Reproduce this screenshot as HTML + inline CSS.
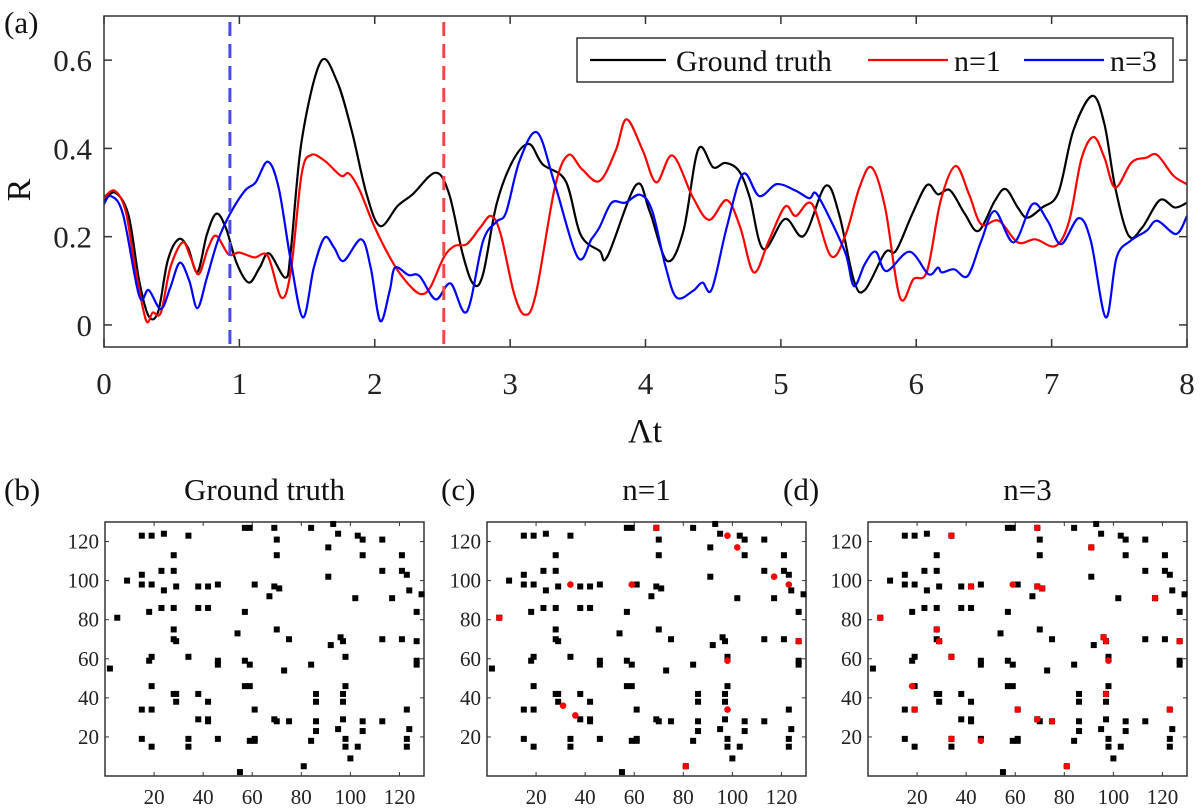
<!DOCTYPE html>
<html><head><meta charset="utf-8">
<style>
html,body{margin:0;padding:0;background:#fff;}
svg{display:block;}
svg text{font-family:"Liberation Serif","Times New Roman","DejaVu Serif","Noto Serif CJK SC",serif;}
</style></head>
<body>
<svg id="fig" width="1204" height="812" viewBox="0 0 1204 812">
</svg>
<script>
// ---- Data: panel (a) ----
const gtX=[0,0.08,0.18,0.26,0.33,0.40,0.47,0.55,0.62,0.69,0.76,0.83,0.90,0.98,1.07,1.15,1.22,1.34,1.38,1.46,1.60,1.72,1.83,1.94,2.04,2.17,2.28,2.45,2.55,2.65,2.73,2.80,2.90,3.02,3.14,3.24,3.41,3.52,3.66,3.72,3.93,4.03,4.16,4.28,4.39,4.50,4.59,4.69,4.77,4.87,5.03,5.17,5.33,5.43,5.54,5.62,5.77,5.85,5.97,6.08,6.16,6.25,6.36,6.46,6.58,6.66,6.75,6.82,6.93,7.05,7.16,7.30,7.39,7.47,7.57,7.67,7.80,7.91,8.0];
const gtY=[0.28,0.30,0.25,0.10,0.02,0.03,0.145,0.194,0.175,0.12,0.205,0.252,0.22,0.14,0.096,0.13,0.162,0.107,0.168,0.417,0.596,0.553,0.44,0.296,0.224,0.27,0.296,0.345,0.296,0.16,0.092,0.115,0.274,0.372,0.41,0.364,0.326,0.205,0.168,0.156,0.317,0.258,0.145,0.213,0.398,0.357,0.367,0.349,0.289,0.172,0.24,0.202,0.315,0.251,0.1,0.079,0.164,0.168,0.251,0.317,0.296,0.305,0.251,0.213,0.281,0.308,0.266,0.243,0.266,0.30,0.44,0.519,0.455,0.311,0.202,0.221,0.283,0.266,0.277];
const n1X=[0,0.08,0.16,0.23,0.31,0.36,0.42,0.49,0.58,0.64,0.70,0.77,0.83,0.92,1.0,1.11,1.21,1.31,1.38,1.46,1.53,1.63,1.75,1.81,1.89,2.0,2.14,2.25,2.34,2.41,2.51,2.59,2.68,2.78,2.86,2.93,3.03,3.11,3.19,3.33,3.43,3.53,3.66,3.78,3.86,3.98,4.08,4.20,4.35,4.47,4.60,4.70,4.80,4.91,5.03,5.11,5.23,5.37,5.48,5.58,5.67,5.77,5.88,5.98,6.08,6.18,6.29,6.39,6.48,6.61,6.75,6.88,7.03,7.13,7.22,7.31,7.39,7.47,7.59,7.70,7.78,7.90,8.0];
const n1Y=[0.289,0.304,0.258,0.13,0.011,0.028,0.028,0.13,0.187,0.153,0.115,0.175,0.202,0.16,0.164,0.153,0.156,0.062,0.122,0.342,0.385,0.372,0.338,0.343,0.304,0.221,0.138,0.092,0.07,0.085,0.153,0.179,0.183,0.221,0.247,0.206,0.07,0.023,0.07,0.311,0.385,0.353,0.326,0.395,0.466,0.395,0.323,0.384,0.289,0.238,0.283,0.221,0.119,0.19,0.268,0.247,0.274,0.156,0.206,0.311,0.357,0.266,0.062,0.104,0.122,0.281,0.36,0.296,0.228,0.236,0.187,0.194,0.179,0.236,0.376,0.426,0.379,0.311,0.368,0.379,0.385,0.338,0.319];
const n3X=[0,0.05,0.14,0.26,0.33,0.42,0.49,0.56,0.63,0.69,0.76,0.84,0.93,1.04,1.12,1.21,1.29,1.38,1.47,1.55,1.63,1.70,1.77,1.90,1.97,2.04,2.11,2.15,2.25,2.33,2.45,2.56,2.68,2.80,2.90,2.97,3.07,3.20,3.33,3.50,3.60,3.66,3.75,3.85,3.96,4.05,4.15,4.23,4.35,4.42,4.49,4.60,4.72,4.84,4.97,5.11,5.21,5.26,5.37,5.48,5.54,5.62,5.70,5.78,5.95,6.09,6.16,6.19,6.28,6.38,6.48,6.58,6.72,6.86,6.97,7.07,7.20,7.29,7.40,7.48,7.58,7.70,7.78,7.92,8.0];
const n3Y=[0.274,0.292,0.251,0.066,0.079,0.036,0.085,0.141,0.10,0.038,0.107,0.19,0.251,0.304,0.323,0.37,0.311,0.145,0.017,0.13,0.198,0.175,0.145,0.194,0.13,0.009,0.077,0.13,0.113,0.111,0.058,0.094,0.03,0.19,0.234,0.255,0.372,0.436,0.319,0.153,0.194,0.221,0.277,0.277,0.295,0.258,0.13,0.062,0.077,0.096,0.081,0.221,0.342,0.292,0.319,0.304,0.287,0.298,0.236,0.16,0.088,0.138,0.166,0.122,0.166,0.115,0.13,0.119,0.126,0.111,0.19,0.258,0.187,0.274,0.236,0.183,0.242,0.19,0.017,0.153,0.19,0.213,0.236,0.206,0.247];
const xTicksA=[0,1,2,3,4,5,6,7,8];
const yTicksA=[0,0.2,0.4,0.6];
const vMarks=[0.93,2.51];
const vColors=["#4a4af0","#f04848"];
// ---- Data: panels (b)-(d) ----
const gridX=[15,19,24,34,28,15,15,19,23,28,24,29,9,5,18,23,28,28,28,29,19,18,2,19,28,29,29,15,19,15,19,34,38,42,46,38,42,38,42,38,42,42,46,46,34,34,46,55,54,57,59,57,61,57,59,57,59,61,59,61,61,69,70,70,69,71,67,70,75,73,69,70,75,84,93,95,91,91,84,86,86,86,86,84,81,92,96,97,98,98,97,97,97,95,98,98,100,103,105,105,102,113,113,117,121,121,123,124,129,127,113,121,127,127,127,105,105,103,113,123,124,123,123];
const gridY=[123,123,124,123,113,103,98,98,105,105,95,97,100,81,84,86,86,75,70,69,61,59,55,46,42,42,38,34,34,19,15,61,97,97,98,86,86,42,38,29,29,28,59,57,19,15,19,2,73,127,127,84,98,59,57,46,46,34,18,18,19,127,121,113,97,96,92,75,70,54,29,28,28,127,129,124,117,102,57,42,38,28,23,18,5,67,71,69,61,46,42,38,29,24,19,15,9,123,121,113,91,121,105,91,113,105,103,95,93,84,70,70,69,59,57,28,23,15,28,34,24,19,15];
const redCX=[5,34,59,69,98,102,117,31,36,98,98,81,123,127];
const redCY=[81,98,98,127,123,117,102,36,31,59,34,5,98,69];
const redDX=[5,34,42,59,69,69,71,91,117,28,29,34,18,19,34,46,61,69,75,81,96,97,98,97,123,127];
const redDY=[81,123,97,98,127,97,96,117,91,75,69,61,46,34,19,18,34,29,28,5,71,69,59,42,34,69];
const gridTicks=[20,40,60,80,100,120];

const NS="http://www.w3.org/2000/svg";
const svg=document.getElementById('fig');
function mk(tag,attrs,parent){const e=document.createElementNS(NS,tag);for(const k in attrs)e.setAttribute(k,attrs[k]);(parent||svg).appendChild(e);return e;}
function txt(s,attrs,parent){const e=mk('text',attrs,parent);e.textContent=s;return e;}

// ---- Panel (a) ----
const A={l:104,r:1187,t:16,b:347,x0:0,x1:8,y0:-0.05,y1:0.7};
const ax=v=>A.l+(v-A.x0)/(A.x1-A.x0)*(A.r-A.l);
const ay=v=>A.b-(v-A.y0)/(A.y1-A.y0)*(A.b-A.t);
const gA=mk('g',{});


function smoothPath(xs,ys,fx,fy){
  const p=xs.map((x,i)=>[fx(x),fy(ys[i])]);
  let d=`M${p[0][0]},${p[0][1]}`;
  for(let i=0;i<p.length-1;i++){
    const p0=p[Math.max(0,i-1)],p1=p[i],p2=p[i+1],p3=p[Math.min(p.length-1,i+2)];
    const c1=[p1[0]+(p2[0]-p0[0])/6,p1[1]+(p2[1]-p0[1])/6];
    const c2=[p2[0]-(p3[0]-p1[0])/6,p2[1]-(p3[1]-p1[1])/6];
    d+=` C${c1[0]},${c1[1]} ${c2[0]},${c2[1]} ${p2[0]},${p2[1]}`;
  }
  return d;
}
const clip=mk('clipPath',{id:'clipA'},mk('defs',{}));
mk('rect',{x:A.l,y:A.t,width:A.r-A.l,height:A.b-A.t},clip);
const series=[[gtX,gtY,'#000','ground-truth-line'],[n1X,n1Y,'#ff0000','n1-line'],[n3X,n3Y,'#0000ff','n3-line']];
const gLines=mk('g',{'clip-path':'url(#clipA)'},gA);
series.forEach(s=>{
  const p=mk('path',{d:smoothPath(s[0],s[1],ax,ay),fill:'none',stroke:s[2],'stroke-width':2.2,'stroke-linejoin':'round'},gLines);
  
  
});
vMarks.forEach((v,i)=>{
  const l=mk('line',{x1:ax(v),x2:ax(v),y1:A.t+6,y2:A.b,stroke:vColors[i],'stroke-width':3,'stroke-dasharray':'14,8'},gA);
  
  
});
mk('rect',{x:A.l,y:A.t,width:A.r-A.l,height:A.b-A.t,fill:'none',stroke:'#333','stroke-width':1.5},gA);
xTicksA.forEach(v=>{
  mk('line',{x1:ax(v),x2:ax(v),y1:A.b,y2:A.b-8,stroke:'#333','stroke-width':1.5},gA);
  mk('line',{x1:ax(v),x2:ax(v),y1:A.t,y2:A.t+8,stroke:'#333','stroke-width':1.5},gA);
  const t=txt(String(v),{x:ax(v),y:A.b+47,'text-anchor':'middle','font-size':31,fill:'#222'},gA);
  
  
});
yTicksA.forEach(v=>{
  mk('line',{x1:A.l,x2:A.l+8,y1:ay(v),y2:ay(v),stroke:'#333','stroke-width':1.5},gA);
  mk('line',{x1:A.r,x2:A.r-8,y1:ay(v),y2:ay(v),stroke:'#333','stroke-width':1.5},gA);
  const t=txt(v===0?'0':v.toFixed(1),{x:A.l-12,y:ay(v)+11,'text-anchor':'end','font-size':31,fill:'#222'},gA);
  
  
});
// legend
const lg=mk('g',{},gA);


mk('rect',{x:577,y:38,width:596,height:44,fill:'#fff',stroke:'#333','stroke-width':1.5},lg);
[[590,666,'#000','Ground truth',676],[868,948,'#ff0000','n=1',954],[1024,1104,'#0000ff','n=3',1110]].forEach(e=>{
  const g=mk('g',{},lg);
  
  
  mk('line',{x1:e[0],x2:e[1],y1:60,y2:60,stroke:e[2],'stroke-width':2.2},g);
  txt(e[3],{x:e[4],y:71,'font-size':30,fill:'#111'},g);
});
const la=txt('(a)',{x:4,y:33,'font-size':31,fill:'#111'});

const yt=txt('R',{x:0,y:0,'font-size':34,fill:'#111','text-anchor':'middle',transform:'translate(30,190) rotate(-90)'});

const xt=txt('Λt',{x:645,y:442,'font-size':34,fill:'#111','text-anchor':'middle'});


// ---- Panels (b),(c),(d) ----
function gridPanel(left,labelX,label,title,rx,ry,name){
  const P={l:left,r:left+319,t:522,b:776};
  const px=v=>P.l+v/130*(P.r-P.l);
  const py=v=>P.b-v/130*(P.b-P.t);
  const g=mk('g',{});
  
  
  mk('rect',{x:P.l,y:P.t,width:P.r-P.l,height:P.b-P.t,fill:'#fff',stroke:'#333','stroke-width':1.5},g);
  gridTicks.forEach(v=>{
    mk('line',{x1:px(v),x2:px(v),y1:P.b,y2:P.b-4,stroke:'#333','stroke-width':1},g);
    mk('line',{x1:px(v),x2:px(v),y1:P.t,y2:P.t+4,stroke:'#333','stroke-width':1},g);
    mk('line',{x1:P.l,x2:P.l+4,y1:py(v),y2:py(v),stroke:'#333','stroke-width':1},g);
    mk('line',{x1:P.r,x2:P.r-4,y1:py(v),y2:py(v),stroke:'#333','stroke-width':1},g);
    const tx=txt(String(v),{x:px(v),y:P.b+28,'text-anchor':'middle','font-size':21,fill:'#222'},g);
    
    const ty=txt(String(v),{x:P.l-6,y:py(v)+7,'text-anchor':'end','font-size':21,fill:'#222'},g);
    
  });
  gridX.forEach((x,i)=>{
    const r=mk('rect',{x:px(x)-3,y:py(gridY[i])-3,width:6,height:6,fill:'#000'},g);
    
    
  });
  rx.forEach((x,i)=>{
    const c=mk('circle',{cx:px(x),cy:py(ry[i]),r:3.3,fill:'#ff0000'},g);
    
    
  });
  const lb=txt(label,{x:labelX,y:500,'font-size':31,fill:'#111'},g);
  
  const tt=txt(title,{x:(P.l+P.r)/2,y:500,'text-anchor':'middle','font-size':31,fill:'#111'},g);
  
}
gridPanel(105,4,'(b)','Ground truth',[],[],'panel-b');
gridPanel(487,441,'(c)','n=1',redCX,redCY,'panel-c');
gridPanel(868,783,'(d)','n=3',redDX,redDY,'panel-d');
</script>
</body></html>
